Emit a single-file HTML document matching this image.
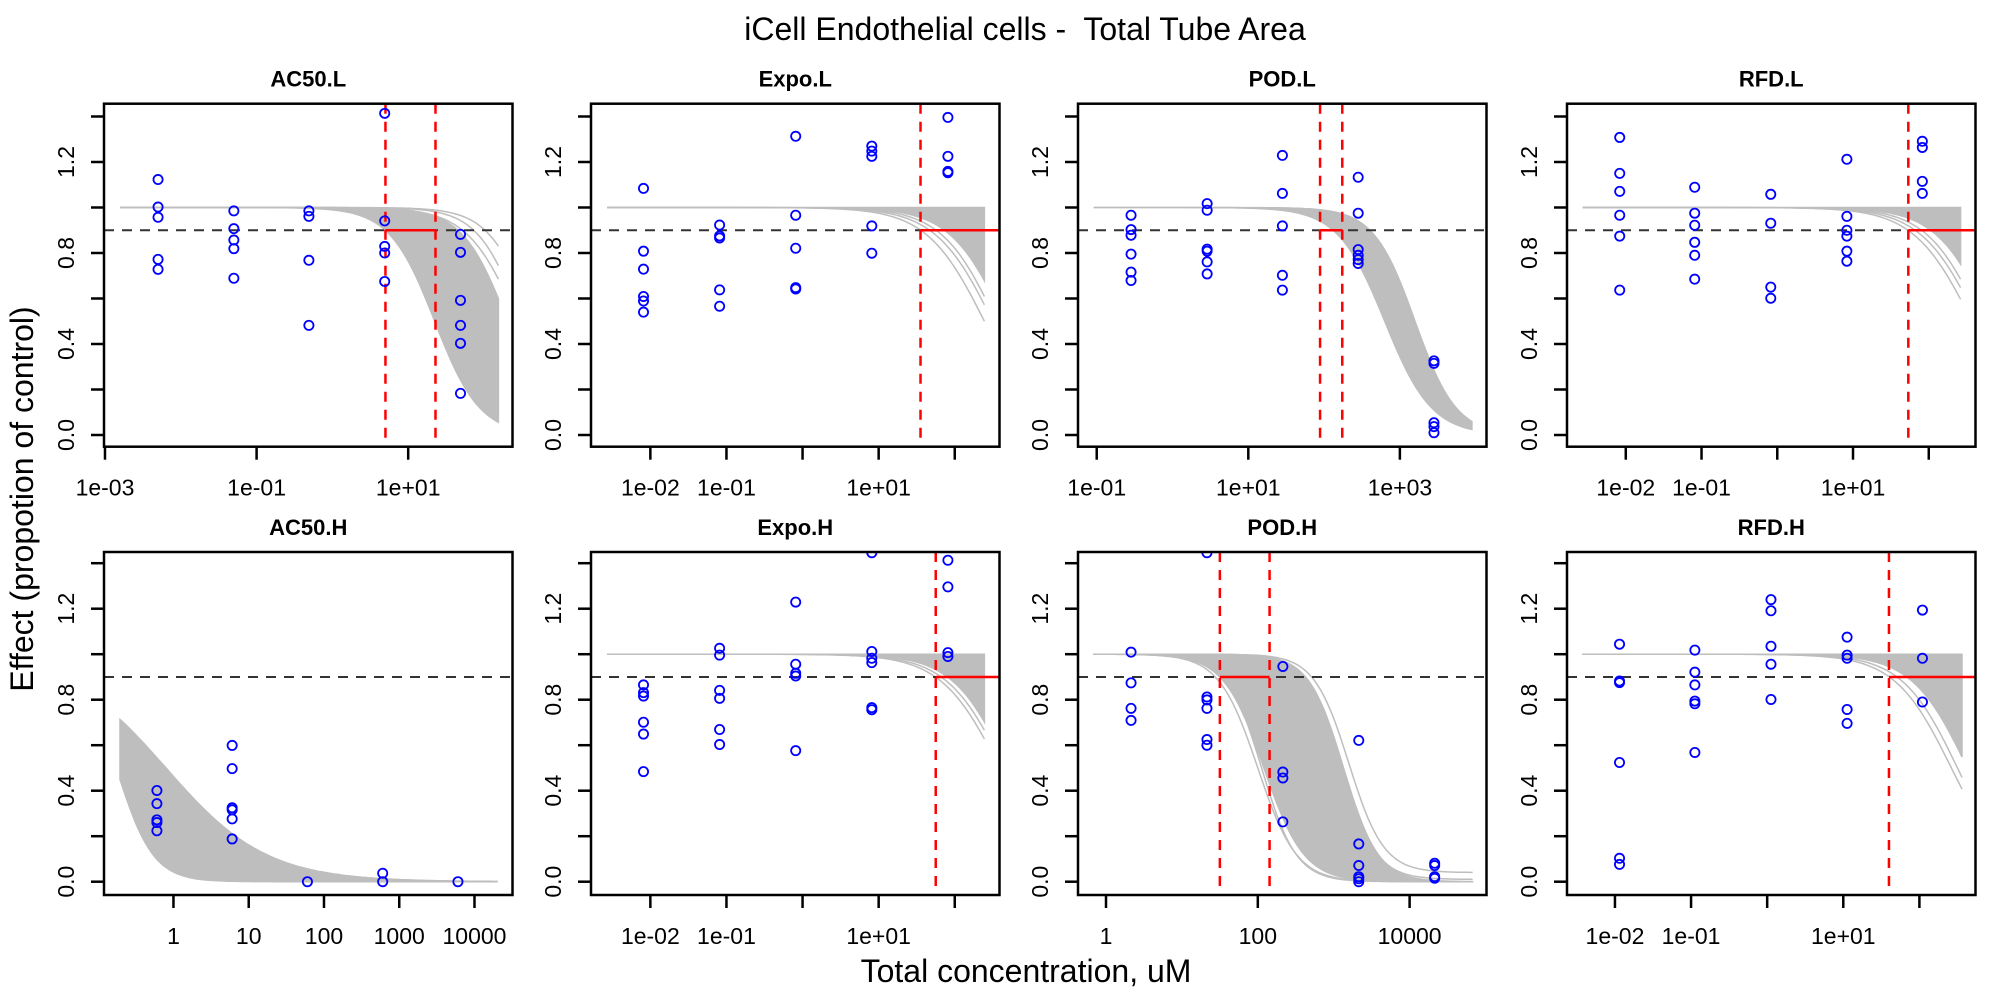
<!DOCTYPE html>
<html><head><meta charset="utf-8"><title>iCell Endothelial cells - Total Tube Area</title>
<style>html,body{margin:0;padding:0;background:#fff;}svg{display:block;font-family:"Liberation Sans",Arial,sans-serif;}text{white-space:pre;}</style>
</head><body>
<svg id="chart" width="2000" height="1000" viewBox="0 0 2000 1000" xmlns="http://www.w3.org/2000/svg">
<rect width="2000" height="1000" fill="#fff"/>
<text x="1025" y="40" font-size="32" text-anchor="middle" xml:space="preserve">iCell Endothelial cells -  Total Tube Area</text>
<text transform="translate(33,499) rotate(-90)" font-size="32" text-anchor="middle">Effect (propotion of control)</text>
<text x="1026" y="982" font-size="32" text-anchor="middle">Total concentration, uM</text>
<g id="panels"></g>
</svg>
<script>
// ---- data ----
const panelNames = ["AC50.L","Expo.L","POD.L","RFD.L","AC50.H","Expo.H","POD.H","RFD.H"];
const xlimLog = [[-3.013,2.376],[-2.78,2.588],[-1.247,4.143],[-2.776,2.617],[-0.923,4.505],[-2.78,2.588],[-0.369,5.013],[-2.63,2.737]];
const tickLogs = [[-3,-1,1],[-2,-1,0,1,2],[-1,1,3],[-2,-1,0,1,2],[0,1,2,3,4],[-2,-1,0,1,2],[0,2,4],[-2,-1,0,1,2]];
const tickLabels = [["1e-03","1e-01","1e+01"],["1e-02","1e-01","","1e+01",""],["1e-01","1e+01","1e+03"],["1e-02","1e-01","","1e+01",""],["1","10","100","1000","10000"],["1e-02","1e-01","","1e+01",""],["1","100","10000"],["1e-02","1e-01","","1e+01",""]];
const concLog = [[-2.30,-1.30,-0.31,0.69,1.69],[-2.09,-1.09,-0.09,0.91,1.91],[-0.547,0.457,1.45,2.45,3.45],[-2.08,-1.09,-0.086,0.919,1.915],[-0.22,0.78,1.78,2.78,3.78],[-2.09,-1.09,-0.09,0.91,1.91],[0.33,1.33,2.33,3.33,4.33],[-1.94,-0.95,0.05,1.05,2.04]];
const effects = [
 [[1.123,1.002,0.957,0.772,0.728],[0.985,0.907,0.857,0.819,0.689],[0.985,0.961,0.768,0.482],[1.414,0.941,0.829,0.800,0.675],[0.882,0.803,0.592,0.482,0.403,0.183]],
 [[1.084,0.808,0.729,0.609,0.589,0.540],[0.923,0.875,0.866,0.638,0.566],[1.313,0.966,0.821,0.648,0.642],[1.270,1.248,1.225,0.919,0.799],[1.396,1.225,1.159,1.153]],
 [[0.966,0.903,0.878,0.795,0.716,0.679],[1.017,0.988,0.817,0.808,0.761,0.708],[1.229,1.062,0.919,0.702,0.637],[1.133,0.975,0.815,0.790,0.771,0.754],[0.326,0.315,0.054,0.037,0.010]],
 [[1.308,1.150,1.071,0.966,0.874,0.637],[1.089,0.975,0.922,0.847,0.790,0.685],[1.058,0.931,0.650,0.601],[1.212,0.961,0.900,0.874,0.808,0.764],[1.291,1.264,1.115,1.062]],
 [[0.401,0.343,0.272,0.260,0.224],[0.599,0.497,0.325,0.316,0.276,0.188],[0.0],[0.037,0.0],[0.0]],
 [[0.865,0.831,0.816,0.701,0.649,0.484],[1.026,0.996,0.841,0.806,0.669,0.603],[1.229,0.956,0.916,0.904,0.576],[1.446,1.012,0.982,0.963,0.765,0.756],[1.413,1.296,1.007,0.990]],
 [[1.009,0.874,0.762,0.709],[1.446,0.812,0.799,0.762,0.625,0.600],[0.946,0.482,0.456,0.263],[0.621,0.166,0.071,0.022,0.013,0.0],[0.081,0.071,0.022,0.015]],
 [[1.044,0.882,0.875,0.524,0.103,0.076],[1.018,0.921,0.865,0.794,0.782,0.568],[1.240,1.191,1.035,0.956,0.801],[1.075,0.996,0.982,0.757,0.696],[1.194,0.982,0.790]]
];
const curveRange = [[-2.80,2.19],[-2.57,2.39],[-1.04,3.95],[-2.57,2.42],[-0.71,4.3],[-2.57,2.39],[-0.17,4.83],[-2.43,2.56]];
const vlines = [[0.70,1.36],[1.55],[1.947,2.24],[1.73],[],[1.75],[1.50,2.155],[1.60]];
const redSegEnd = [1.36,null,2.24,null,null,null,2.155,null];
const bandLo = [[1.35,1.46,0],[2.66,1.2,0],[2.80,1.4,0],[2.82,1.2,0],[-0.76,1.78,0],[2.70,1.2,0],[2.08,1.64,0],[2.63,1.2,0]];
const bandHi = [[2.31,1.46,0],[5.5,1.2,0],[3.2,1.6,0],[5.5,1.2,0],[-0.1,0.65,0],[5.5,1.2,0],[3.13,1.9,0],[5.5,1.2,0]];
const extraCurves = [
 [[2.5,1.5,0],[2.65,1.5,0],[2.45,1.3,0]],
 [[2.39,1.14,0],[2.5,1.15,0],[2.55,1.2,0]],
 [[2.9,1.5,0]],
 [[2.57,1.13,0],[2.65,1.15,0],[2.7,1.2,0]],
 [[-0.3,0.9,0],[-0.5,1.2,0]],
 [[2.59,1.13,0],[2.65,1.15,0]],
 [[2.0,1.7,0],[2.05,1.9,0],[3.2,1.9,0.04],[3.1,1.9,0.01]],
 [[2.42,1.17,0],[2.5,1.2,0]]
];
const yTicks = [0,0.2,0.4,0.6,0.8,1.0,1.2,1.4];
const yTickLabels = ["0.0","","0.4","","0.8","","1.2",""];
const refLevel = 0.9;

// ---- layout ----
const NS = "http://www.w3.org/2000/svg";
const boxLefts = [104,591,1078,1567];
const boxW = 408.5;
const rowTops = [103.7,552];
const boxH = 343;
const zeroY = [435,881.7];
const yUnit = 227.5;
const root = document.getElementById('panels');
function mk(tag, attrs, parent){const e=document.createElementNS(NS,tag);for(const k in attrs)e.setAttribute(k,attrs[k]);(parent||root).appendChild(e);return e;}
function hill(lx,p){return p[2]+(1-p[2])/(1+Math.pow(10,p[1]*(lx-p[0])));}

panelNames.forEach((name,i)=>{
  const row=Math.floor(i/4), col=i%4;
  const L=boxLefts[col], T=rowTops[row], R=L+boxW, B=T+boxH;
  const xl=xlimLog[i];
  const xs=lx=>L+(lx-xl[0])/(xl[1]-xl[0])*boxW;
  const ys=v=>zeroY[row]-v*yUnit;
  const g=mk('g',{});
  
  
  const cp=mk('clipPath',{id:'clip'+i},g);
  mk('rect',{x:L,y:T,width:boxW,height:boxH},cp);
  const t=mk('text',{x:(L+R)/2,y:T-17,'font-size':22,'font-weight':'bold','text-anchor':'middle'},g);
  t.textContent=name;
  
  
  const pg=mk('g',{'clip-path':'url(#clip'+i+')'},g);
  const cr=curveRange[i], N=120;
  let up=[],lo=[];
  for(let k=0;k<=N;k++){const lx=cr[0]+(cr[1]-cr[0])*k/N;up.push(xs(lx).toFixed(1)+','+ys(hill(lx,bandHi[i])).toFixed(1));lo.push(xs(lx).toFixed(1)+','+ys(hill(lx,bandLo[i])).toFixed(1));}
  const band=mk('polygon',{points:up.concat(lo.slice().reverse()).join(' '),fill:'#bebebe',stroke:'#bebebe','stroke-width':1.5},pg);
  
  
  extraCurves[i].forEach(p=>{
    let pts=[];
    for(let k=0;k<=N;k++){const lx=cr[0]+(cr[1]-cr[0])*k/N;pts.push(xs(lx).toFixed(1)+','+ys(hill(lx,p)).toFixed(1));}
    const pl=mk('polyline',{points:pts.join(' '),fill:'none',stroke:'#bebebe','stroke-width':1.5},pg);
    
    
  });
  const hl=mk('line',{x1:L,x2:R,y1:ys(refLevel),y2:ys(refLevel),stroke:'#333','stroke-width':2,'stroke-dasharray':'10 8'},pg);
  
  
  vlines[i].forEach(v=>{
    const vl=mk('line',{x1:xs(v),x2:xs(v),y1:T,y2:B,stroke:'#ff0000','stroke-width':2.5,'stroke-dasharray':'10 8'},pg);
    
    
  });
  if(vlines[i].length){
    const e=redSegEnd[i]===null?xl[1]:redSegEnd[i];
    const rs=mk('line',{x1:xs(vlines[i][0]),x2:xs(e),y1:ys(refLevel),y2:ys(refLevel),stroke:'#ff0000','stroke-width':2.5},pg);
    
    
  }
  effects[i].forEach((arr,c)=>arr.forEach(v=>{
    const pt=mk('circle',{cx:xs(concLog[i][c]),cy:ys(v),r:4.6,fill:'none',stroke:'#0000ff','stroke-width':1.8},pg);
    
    
  }));
  const bx=mk('rect',{x:L,y:T,width:boxW,height:boxH,fill:'none',stroke:'#000','stroke-width':2.5},g);
  
  
  yTicks.forEach((v,k)=>{
    const tk=mk('line',{x1:L-13,x2:L,y1:ys(v),y2:ys(v),stroke:'#000','stroke-width':2.5},g);
    
    
    if(yTickLabels[k]){
      const tl=mk('text',{transform:'translate('+(L-30)+','+ys(v)+') rotate(-90)','font-size':23,'text-anchor':'middle'},g);
      tl.textContent=yTickLabels[k];
      
      
    }
  });
  tickLogs[i].forEach((lv,k)=>{
    const x=xs(lv);
    const tk=mk('line',{x1:x,x2:x,y1:B,y2:B+13,stroke:'#000','stroke-width':2.5},g);
    
    
    if(tickLabels[i][k]){
      const tl=mk('text',{x:x,y:B+49,'font-size':23,'text-anchor':'middle'},g);
      tl.textContent=tickLabels[i][k];
      
      
    }
  });
});
</script>
</body></html>
